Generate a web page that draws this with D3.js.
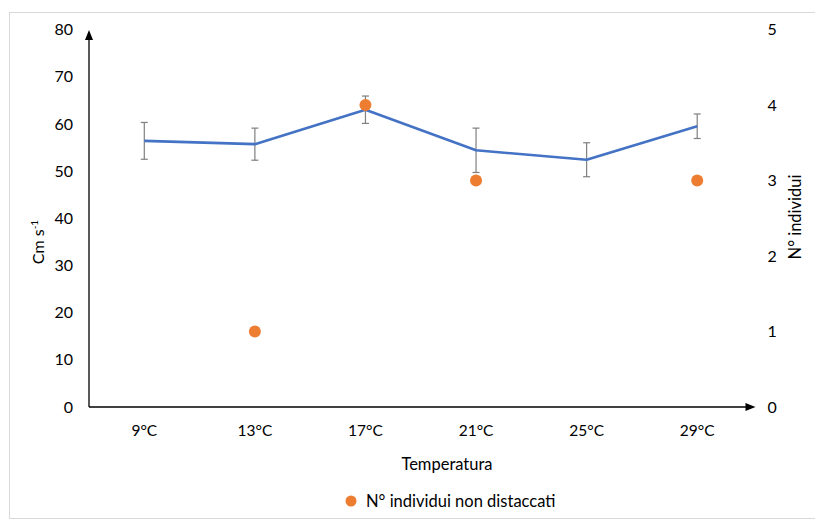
<!DOCTYPE html>
<html>
<head>
<meta charset="utf-8">
<script src="https://cdn.jsdelivr.net/npm/d3@7"></script>
<style>
  html, body { margin: 0; padding: 0; background: #fff; }
  svg text { font-family: Lato, "Open Sans", sans-serif; fill: #000; }
</style>
</head>
<body>
<svg id="chart" width="815" height="524"></svg>
<script>
// Temperature categories
const categories = ["9°C", "13°C", "17°C", "21°C", "25°C", "29°C"];
// Mean speed (cm/s) with standard error
const speed = [56.4, 55.7, 63.0, 54.4, 52.4, 59.5];
const speedErr = [3.9, 3.4, 2.9, 4.7, 3.6, 2.6];
// Number of individuals not detached (right axis); null = not plotted
const notDetached = [null, 1, 4, 3, null, 3];
// Axis ticks
const leftTicks = [0, 10, 20, 30, 40, 50, 60, 70, 80];
const rightTicks = [0, 1, 2, 3, 4, 5];

const svg = d3.select("#chart");

// Outer frame
svg.append("rect")
  .attr("x", 9.5).attr("y", 12.5)
  .attr("width", 820).attr("height", 506)
  .attr("fill", "none").attr("stroke", "#d9d9d9");

const x0 = 89, x1 = 752.5, yTop = 29.5, yBot = 407;

const x = d3.scaleBand().domain(categories).range([x0, x1]);
const yL = d3.scaleLinear().domain([0, 80]).range([yBot, yTop]);
const yR = d3.scaleLinear().domain([0, 5]).range([yBot, yTop]);

// Left axis labels
const leftAxis = d3.axisLeft(yL).tickValues(leftTicks).tickSize(0).tickPadding(16);
const gL = svg.append("g").attr("transform", `translate(${x0},0)`).call(leftAxis);
gL.select(".domain").remove();
gL.selectAll("text").attr("font-size", 16).attr("fill", "#000");

// Right axis labels
const rightAxis = d3.axisRight(yR).tickValues(rightTicks).tickFormat(d3.format("d"))
  .tickSize(0).tickPadding(14);
const gR = svg.append("g").attr("transform", `translate(${x1 + 1},0)`).call(rightAxis);
gR.select(".domain").remove();
gR.selectAll("text").attr("font-size", 16).attr("fill", "#000");

// Category labels
const bottomAxis = d3.axisBottom(x).tickSize(0).tickPadding(18);
const gB = svg.append("g").attr("transform", `translate(0,${yBot})`).call(bottomAxis);
gB.select(".domain").remove();
gB.selectAll("text").attr("font-size", 15.5).attr("fill", "#000");

// Axis lines with arrowheads
svg.append("line").attr("x1", x0).attr("x2", x0).attr("y1", yBot).attr("y2", 38)
  .attr("stroke", "#000").attr("stroke-width", 1.3);
svg.append("path").attr("d", `M${x0 - 4},40 L${x0},30 L${x0 + 4},40 Z`).attr("fill", "#000");
svg.append("line").attr("x1", x0).attr("x2", x1 - 4).attr("y1", yBot).attr("y2", yBot)
  .attr("stroke", "#000").attr("stroke-width", 1.3);
svg.append("path").attr("d", `M${x1 - 7},${yBot - 4} L${x1 + 3},${yBot} L${x1 - 7},${yBot + 4} Z`).attr("fill", "#000");

const cx = d => x(d) + x.bandwidth() / 2;

// Error bars
const eb = svg.append("g").attr("stroke", "#7f7f7f").attr("stroke-width", 1.2);
categories.forEach((c, i) => {
  const hi = yL(speed[i] + speedErr[i]), lo = yL(speed[i] - speedErr[i]);
  eb.append("line").attr("x1", cx(c)).attr("x2", cx(c)).attr("y1", hi).attr("y2", lo);
  eb.append("line").attr("x1", cx(c) - 3.5).attr("x2", cx(c) + 3.5).attr("y1", hi).attr("y2", hi);
  eb.append("line").attr("x1", cx(c) - 3.5).attr("x2", cx(c) + 3.5).attr("y1", lo).attr("y2", lo);
});

// Speed line
const line = d3.line().x((d, i) => cx(categories[i])).y(d => yL(d));
svg.append("path").datum(speed)
  .attr("d", line)
  .attr("fill", "none").attr("stroke", "#4472C4").attr("stroke-width", 2.6)
  .attr("stroke-linejoin", "round");

// Individuals not detached
svg.append("g").selectAll("circle")
  .data(categories.map((c, i) => ({ c, v: notDetached[i] })).filter(d => d.v !== null))
  .join("circle")
  .attr("cx", d => cx(d.c)).attr("cy", d => yR(d.v)).attr("r", 6)
  .attr("fill", "#ED7D31");

// Axis titles
const lt = svg.append("text").attr("transform", "translate(44,242) rotate(-90)")
  .attr("text-anchor", "middle").attr("font-size", 16);
lt.append("tspan").text("Cm s");
lt.append("tspan").attr("dy", -6).attr("font-size", 10).text("-1");

svg.append("text").attr("transform", "translate(801,217) rotate(-90)")
  .attr("text-anchor", "middle").attr("font-size", 16.5).text("N° individui");

svg.append("text").attr("x", 447).attr("y", 470)
  .attr("text-anchor", "middle").attr("font-size", 16.5).text("Temperatura");

// Legend
svg.append("circle").attr("cx", 351).attr("cy", 501).attr("r", 5.5).attr("fill", "#ED7D31");
svg.append("text").attr("x", 366).attr("y", 507).attr("font-size", 16.5)
  .text("N° individui non distaccati");
</script>
</body>
</html>
